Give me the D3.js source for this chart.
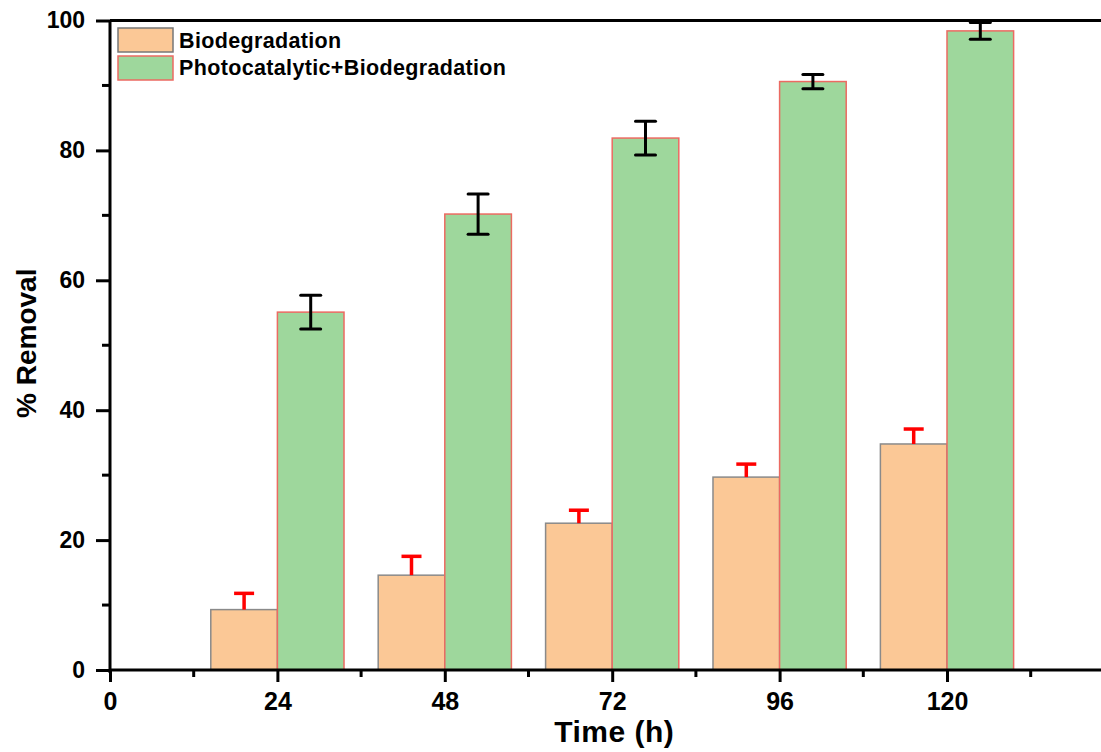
<!DOCTYPE html>
<html>
<head>
<meta charset="utf-8">
<script src="https://cdn.jsdelivr.net/npm/d3@7"></script>
<style>
  body { margin: 0; background: #fff; }
  text { font-family: "Liberation Sans", Arial, sans-serif; font-weight: bold; }
</style>
</head>
<body>
<svg id="chart" width="1101" height="752"></svg>
<script>
var times = [24, 48, 72, 96, 120]
var bioValues = [9.3, 14.6, 22.6, 29.7, 34.8]
var bioErrors = [2.5, 2.9, 2.0, 2.0, 2.3]
var photoValues = [55.1, 70.2, 81.9, 90.6, 98.4]
var photoErrors = [2.6, 3.1, 2.6, 1.1, 1.3]
var xTicks = [0, 24, 48, 72, 96, 120]
var xMinor = [12, 36, 60, 84, 108, 132]
var yTicks = [0, 20, 40, 60, 80, 100]
var yMinor = [10, 30, 50, 70, 90]
var seriesNames = ['Biodegradation', 'Photocatalytic+Biodegradation']

var svg = d3.select('#chart')
var x = d3.scaleLinear().domain([0, 144]).range([110, 1114.4])
var y = d3.scaleLinear().domain([0, 100]).range([670, 20.5])
var barW = 9.55 // in hours

var bioFill = '#fbc896', bioStroke = '#8a8a8a'
var photoFill = '#9ed79c', photoStroke = '#ec6a62'

// bars
svg.selectAll('.bio')
	.data(times)
	.join('rect')
	.attr('class', 'bio')
	.attr('x', function (d) { return x(d - barW) })
	.attr('width', function (d) { return x(barW) - x(0) })
	.attr('y', function (d, i) { return y(bioValues[i]) })
	.attr('height', function (d, i) { return y(0) - y(bioValues[i]) })
	.attr('fill', bioFill)
	.attr('stroke', bioStroke)
	.attr('stroke-width', 1.5)

svg.selectAll('.photo')
	.data(times)
	.join('rect')
	.attr('class', 'photo')
	.attr('x', function (d) { return x(d) })
	.attr('width', function (d) { return x(barW) - x(0) })
	.attr('y', function (d, i) { return y(photoValues[i]) })
	.attr('height', function (d, i) { return y(0) - y(photoValues[i]) })
	.attr('fill', photoFill)
	.attr('stroke', photoStroke)
	.attr('stroke-width', 1.5)

// error bars: biodegradation only upward, red
var bioErr = svg.selectAll('.bioErr')
	.data(times)
	.join('g')
	.attr('class', 'bioErr')
	.attr('stroke', '#ff0000')
	.attr('stroke-width', 3.5)
bioErr.append('line')
	.attr('x1', function (d) { return x(d - barW / 2) })
	.attr('x2', function (d) { return x(d - barW / 2) })
	.attr('y1', function (d, i) { return y(bioValues[i]) })
	.attr('y2', function (d, i) { return y(bioValues[i] + bioErrors[i]) })
bioErr.append('line')
	.attr('x1', function (d) { return x(d - barW / 2) - 10 })
	.attr('x2', function (d) { return x(d - barW / 2) + 10 })
	.attr('y1', function (d, i) { return y(bioValues[i] + bioErrors[i]) })
	.attr('y2', function (d, i) { return y(bioValues[i] + bioErrors[i]) })

// error bars: photocatalytic, black both ways
var photoErr = svg.selectAll('.photoErr')
	.data(times)
	.join('g')
	.attr('class', 'photoErr')
	.attr('stroke', '#000')
	.attr('stroke-width', 3)
photoErr.append('line')
	.attr('x1', function (d) { return x(d + barW / 2) })
	.attr('x2', function (d) { return x(d + barW / 2) })
	.attr('y1', function (d, i) { return y(photoValues[i] - photoErrors[i]) })
	.attr('y2', function (d, i) { return y(photoValues[i] + photoErrors[i]) })
photoErr.selectAll('.cap')
	.data(function (d, i) { return [[d, photoValues[i] + photoErrors[i]], [d, photoValues[i] - photoErrors[i]]] })
	.join('line')
	.attr('class', 'cap')
	.attr('x1', function (d) { return x(d[0] + barW / 2) - 10 })
	.attr('x2', function (d) { return x(d[0] + barW / 2) + 10 })
	.attr('y1', function (d) { return y(d[1]) })
	.attr('y2', function (d) { return y(d[1]) })
	.attr('stroke-linecap', 'round')

// top frame line
svg.append('line')
	.attr('x1', x(0)).attr('x2', x(144))
	.attr('y1', y(100)).attr('y2', y(100))
	.attr('stroke', '#000').attr('stroke-width', 3)

// x axis
var xAxis = svg.append('g')
	.attr('transform', 'translate(0,' + y(0) + ')')
	.call(d3.axisBottom(x).tickValues(xTicks).tickSize(12).tickPadding(10).tickFormat(d3.format('d')))
xAxis.select('.domain').attr('stroke-width', 3).attr('d', 'M' + x(0) + ',0H' + x(144))
xAxis.selectAll('.tick line').attr('stroke-width', 3)
xAxis.selectAll('.tick text').attr('font-size', 25).attr('fill', '#000')
svg.append('g').selectAll('line')
	.data(xMinor)
	.join('line')
	.attr('x1', function (d) { return x(d) }).attr('x2', function (d) { return x(d) })
	.attr('y1', y(0)).attr('y2', y(0) + 7)
	.attr('stroke', '#000').attr('stroke-width', 3)

// y axis
var yAxis = svg.append('g')
	.attr('transform', 'translate(' + x(0) + ',0)')
	.call(d3.axisLeft(y).tickValues(yTicks).tickSize(14).tickPadding(11))
yAxis.select('.domain').attr('stroke-width', 3).attr('d', 'M0,' + (y(0) + 3) + 'V' + y(100))
yAxis.selectAll('.tick line').attr('stroke-width', 3)
yAxis.selectAll('.tick text').attr('font-size', 23).attr('fill', '#000')
svg.append('g').selectAll('line')
	.data(yMinor)
	.join('line')
	.attr('x1', x(0) - 8).attr('x2', x(0))
	.attr('y1', function (d) { return y(d) }).attr('y2', function (d) { return y(d) })
	.attr('stroke', '#000').attr('stroke-width', 3)

// axis titles
svg.append('text')
	.attr('x', x(72) + 2).attr('y', 742)
	.attr('text-anchor', 'middle')
	.attr('font-size', 30)
	.attr('letter-spacing', 0.5)
	.text('Time (h)')
svg.append('text')
	.attr('transform', 'translate(36,' + (y(50) - 2) + ') rotate(-90)')
	.attr('text-anchor', 'middle')
	.attr('font-size', 28)
	.text('% Removal')

// legend
var legend = svg.append('g')
legend.selectAll('rect')
	.data(seriesNames)
	.join('rect')
	.attr('x', 118)
	.attr('y', function (d, i) { return 28 + 28 * i })
	.attr('width', 55).attr('height', 24)
	.attr('fill', function (d, i) { return i ? photoFill : bioFill })
	.attr('stroke', function (d, i) { return i ? photoStroke : '#777' })
	.attr('stroke-width', 1.5)
legend.selectAll('text')
	.data(seriesNames)
	.join('text')
	.attr('x', 179)
	.attr('y', function (d, i) { return 48 + 27 * i })
	.attr('font-size', 21.5)
	.attr('letter-spacing', 0.35)
	.text(function (d) { return d })
</script>
</body>
</html>
